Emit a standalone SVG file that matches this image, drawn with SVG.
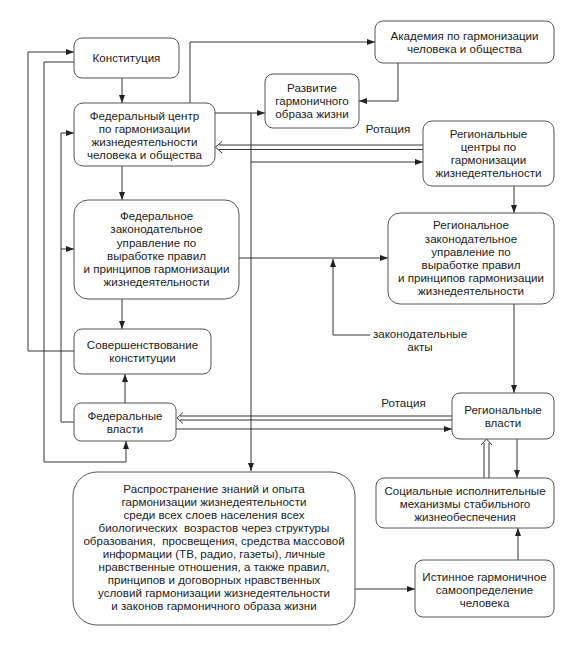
<svg xmlns="http://www.w3.org/2000/svg" width="580" height="656" viewBox="0 0 580 656">
<defs>
<marker id="a" viewBox="0 0 8 6" refX="8" refY="3" markerWidth="8" markerHeight="6" markerUnits="userSpaceOnUse" orient="auto">
<path d="M0,0 L8,3 L0,6 Z" fill="#222"/>
</marker>
<style>
.b{fill:#fff;stroke:#555;stroke-width:1}
.t{font-family:"Liberation Sans",Arial,sans-serif;font-size:11.6px;fill:#222;text-anchor:middle}
.c path{fill:none;stroke:#333;stroke-width:1}
.c .m{marker-end:url(#a)}
</style>
</defs>
<rect width="580" height="656" fill="#fff"/>
<g class="c" id="connectors">
<path class="m" d="M122,78 V103"/>
<path class="m" d="M122,166 V200"/>
<path class="m" d="M122,299 V329"/>
<path class="m" d="M125,403 V374"/>
<path class="m" d="M74,351 H28 V52 H74"/>
<path class="m" d="M74,62 H44 V462 H126 V441"/>
<path class="m" d="M74,422 H61 V133 H74"/>
<path class="m" d="M61,249 H74"/>
<path class="m" d="M190,103 V42 H375"/>
<path class="m" d="M398,63 V101 H359"/>
<path class="m" d="M215,113 H265"/>
<path class="m" d="M251,113 V471"/>
<path class="m" d="M251,162 H423"/>
<path d="M423,145 H219 M423,149.5 H219 M222,141.5 L215.5,147.2 L222,153"/>
<path class="m" d="M514,186 V213"/>
<path class="m" d="M239,258 H388"/>
<path class="m" d="M370,335 H333 V259"/>
<path class="m" d="M514,304 V393"/>
<path d="M452,416 H180 M452,420 H180 M183,412.5 L177,418 L183,423.5"/>
<path class="m" d="M176,429 H452"/>
<path class="m" d="M517,439 V478"/>
<path d="M484,478 V443 M489,478 V443 M481,445 L486.5,439 L492,445"/>
<path class="m" d="M518,560 V528"/>
<path class="m" d="M355,589 H415"/>
</g>
<g id="konst"><rect class="b" x="74" y="38" width="105" height="40" rx="8"/><text class="t" x="126.5" y="62">Конституция</text></g>
<g id="fedcenter"><rect class="b" x="74" y="103" width="141" height="63" rx="9"/>
<text class="t" x="144.5" y="120">Федеральный центр</text>
<text class="t" x="144.5" y="133">по гармонизации</text>
<text class="t" x="144.5" y="146">жизнедеятельности</text>
<text class="t" x="144.5" y="159">человека и общества</text></g>
<g id="academy"><rect class="b" x="375" y="21" width="179" height="42" rx="8"/>
<text class="t" x="464.5" y="40">Академия по гармонизации</text>
<text class="t" x="464.5" y="53">человека и общества</text></g>
<g id="razvitie"><rect class="b" x="265" y="74" width="94" height="54" rx="8"/>
<text class="t" x="312" y="92">Развитие</text>
<text class="t" x="312" y="105">гармоничного</text>
<text class="t" x="312" y="118">образа жизни</text></g>
<g id="regcenters"><rect class="b" x="423" y="121" width="131" height="65" rx="9"/>
<text class="t" x="488.5" y="138">Региональные</text>
<text class="t" x="488.5" y="151">центры по</text>
<text class="t" x="488.5" y="164">гармонизации</text>
<text class="t" x="488.5" y="177">жизнедеятельности</text></g>
<g id="fedlaw"><rect class="b" x="74" y="200" width="165" height="99" rx="14"/>
<text class="t" x="156.5" y="220">Федеральное</text>
<text class="t" x="156.5" y="233">законодательное</text>
<text class="t" x="156.5" y="247">управление по</text>
<text class="t" x="156.5" y="260">выработке правил</text>
<text class="t" x="156.5" y="273">и принципов гармонизации</text>
<text class="t" x="156.5" y="286">жизнедеятельности</text></g>
<g id="reglaw"><rect class="b" x="388" y="213" width="166" height="91" rx="12"/>
<text class="t" x="471" y="229">Региональное</text>
<text class="t" x="471" y="243">законодательное</text>
<text class="t" x="471" y="256">управление по</text>
<text class="t" x="471" y="269">выработке правил</text>
<text class="t" x="471" y="282">и принципов гармонизации</text>
<text class="t" x="471" y="295">жизнедеятельности</text></g>
<g id="sovers"><rect class="b" x="74" y="329" width="137" height="45" rx="8"/>
<text class="t" x="142.5" y="349">Совершенствование</text>
<text class="t" x="142.5" y="362">конституции</text></g>
<g id="fedvlasti"><rect class="b" x="74" y="403" width="102" height="38" rx="7"/>
<text class="t" x="125" y="420">Федеральные</text>
<text class="t" x="125" y="433">власти</text></g>
<g id="regvlasti"><rect class="b" x="452" y="393" width="102" height="46" rx="8"/>
<text class="t" x="503" y="414">Региональные</text>
<text class="t" x="503" y="427">власти</text></g>
<g id="social"><rect class="b" x="376" y="478" width="178" height="50" rx="8"/>
<text class="t" x="465" y="495">Социальные исполнительные</text>
<text class="t" x="465" y="508">механизмы стабильного</text>
<text class="t" x="465" y="521">жизнеобеспечения</text></g>
<g id="istinnoe"><rect class="b" x="415" y="560" width="139" height="57" rx="8"/>
<text class="t" x="484.5" y="581">Истинное гармоничное</text>
<text class="t" x="484.5" y="594">самоопределение</text>
<text class="t" x="484.5" y="607">человека</text></g>
<g id="rasprost"><rect class="b" x="73" y="472" width="282" height="153" rx="24"/>
<text class="t" x="214" y="493">Распространение знаний и опыта</text>
<text class="t" x="214" y="506">гармонизации жизнедеятельности</text>
<text class="t" x="214" y="519">среди всех слоев населения всех</text>
<text class="t" x="214" y="532" xml:space="preserve">биологических  возрастов через структуры</text>
<text class="t" x="214" y="545" xml:space="preserve">образования,  просвещения, средства массовой</text>
<text class="t" x="214" y="558">информации (ТВ, радио, газеты), личные</text>
<text class="t" x="214" y="571">нравственные отношения, а также правил,</text>
<text class="t" x="214" y="584">принципов и договорных нравственных</text>
<text class="t" x="214" y="597">условий гармонизации жизнедеятельности</text>
<text class="t" x="214" y="610">и законов гармоничного образа жизни</text></g>
<g id="labels">
<text class="t" x="388" y="133">Ротация</text>
<text class="t" x="403.5" y="407">Ротация</text>
<text class="t" x="420" y="338">законодательные</text>
<text class="t" x="420" y="351">акты</text>
</g>
</svg>
